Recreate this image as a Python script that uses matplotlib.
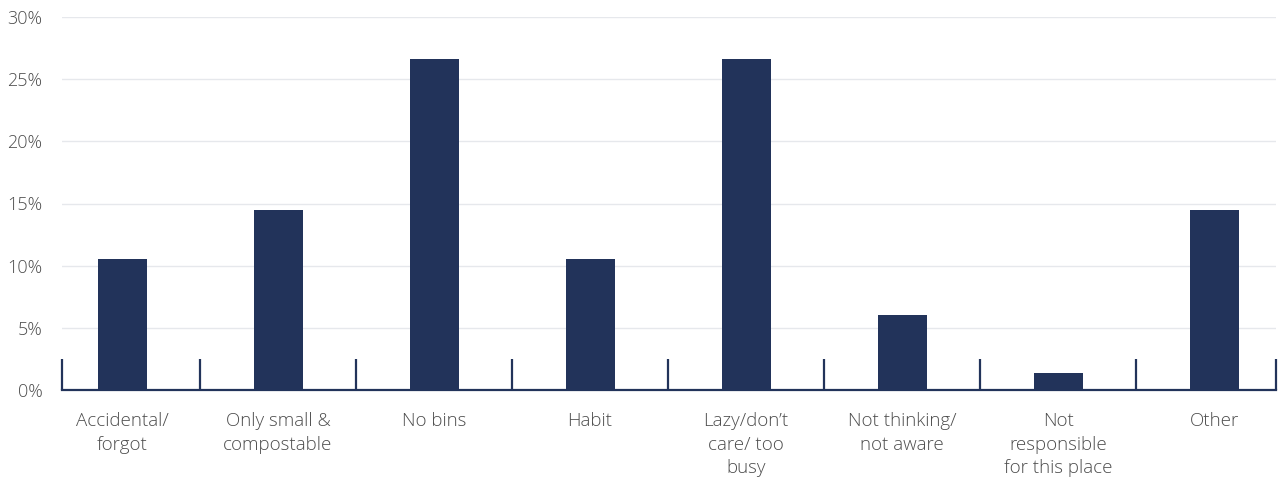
import numpy as np
import matplotlib.pyplot as plt

categories = ["Accidental/\nforgot", "Only small &\ncompostable", "No bins", "Habit",
              "Lazy/don\u2019t\ncare/ too\nbusy", "Not thinking/\nnot aware",
              "Not\nresponsible\nfor this place", "Other"]
values = [10.5, 14.5, 26.6, 10.5, 26.6, 6.0, 1.4, 14.5]
yticks = [0, 5, 10, 15, 20, 25, 30]

navy = "#22335a"
txt = "#4d4d4d"
plt.rcParams['font.family'] = ['Open Sans', 'DejaVu Sans']
plt.rcParams['font.weight'] = 'light'

fig = plt.figure(figsize=(12.81, 4.8), dpi=100)
ax = fig.add_axes([62/1281, 1-390/480, (1276-62)/1281, (390-17)/480])

x = np.arange(len(categories))
ax.bar(x, values, width=0.314, color=navy, zorder=3)

ax.set_ylim(0, 30)
ax.set_xlim(-0.385, 7.397)
ax.set_yticks(yticks)
ax.set_yticklabels([f"{v}%" for v in yticks], fontsize=13, color=txt)
ax.tick_params(axis='y', length=0, pad=14)
ax.grid(axis='y', color="#e6e8ec", lw=1, zorder=0)

# category separators as major ticks, labels as minor ticks
bounds = list(ax.get_xlim()[:1]) + list(x[:-1] + 0.5) + [ax.get_xlim()[1]]
ax.set_xticks(bounds)
ax.set_xticklabels([""] * len(bounds))
ax.tick_params(axis='x', which='major', direction='in', length=22, width=1.6, color=navy)
ax.set_xticks(x, minor=True)
ax.set_xticklabels(categories, minor=True, fontsize=13.5, color=txt, linespacing=1.38, va='top')
ax.tick_params(axis='x', which='minor', length=0, pad=16)

for s in ['top', 'right', 'left']:
    ax.spines[s].set_visible(False)
ax.spines['bottom'].set_color(navy)
ax.spines['bottom'].set_linewidth(1.6)
ax.spines['bottom'].set_zorder(4)

fig.savefig("out.png", dpi=100)
